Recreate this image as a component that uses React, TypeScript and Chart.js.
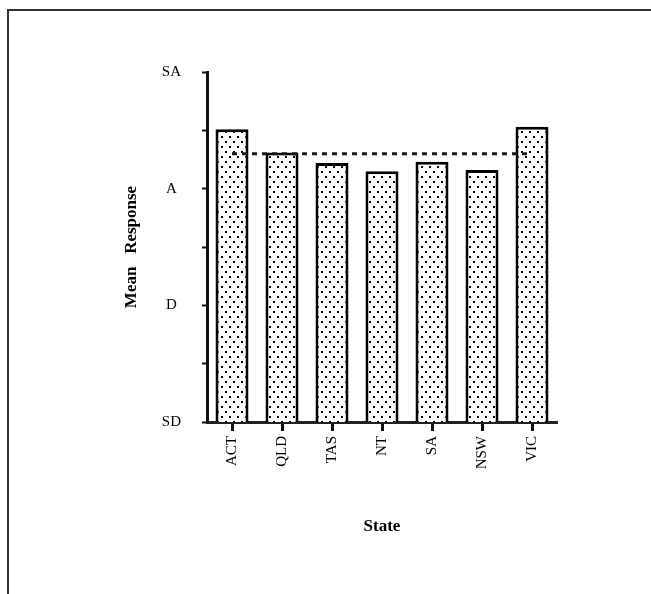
import React, { useEffect, useRef } from "react";
import { Chart, registerables } from "chart.js";

Chart.register(...registerables);

const states = ["ACT", "QLD", "TAS", "NT", "SA", "NSW", "VIC"];
const meanResponse = [3.51, 3.31, 3.22, 3.15, 3.23, 3.16, 3.53];
const overallMean = [3.3, 3.3, 3.3, 3.3, 3.3, 3.3, 3.3];
const yTickValues = [1, 2, 3, 4];
const yTickLabels = ["SD", "D", "A", "SA"];

const SERIF = '"Liberation Serif", "DejaVu Serif", "Times New Roman", serif';

function makeDotPattern(): CanvasPattern | string {
  const c = document.createElement("canvas");
  c.width = 8;
  c.height = 10;
  const g = c.getContext("2d");
  if (!g) return "#fff";
  g.fillStyle = "#ffffff";
  g.fillRect(0, 0, 8, 10);
  g.fillStyle = "#000000";
  g.fillRect(1, 1, 2, 2);
  g.fillRect(5, 6, 2, 2);
  const p = g.createPattern(c, "repeat");
  return p || "#fff";
}

export default function App() {
  const ref = useRef<HTMLCanvasElement | null>(null);

  useEffect(() => {
    if (!ref.current) return;
    const pattern = makeDotPattern();
    const chart = new Chart(ref.current, {
      type: "bar",
      data: {
        labels: states,
        datasets: [
          {
            type: "line",
            label: "Overall mean",
            data: overallMean,
            borderColor: "#1a1a1a",
            borderWidth: 3,
            borderDash: [5, 5],
            pointRadius: 0,
            fill: false,
            order: 0,
          } as any,
          {
            type: "bar",
            label: "Mean Response",
            data: meanResponse,
            backgroundColor: pattern as any,
            borderColor: "#000000",
            borderWidth: 3,
            borderSkipped: false,
            categoryPercentage: 1,
            barPercentage: 0.66,
            order: 1,
          } as any,
        ],
      },
      options: {
        animation: false,
        responsive: true,
        maintainAspectRatio: false,
        layout: { padding: { left: 117, top: 72, right: 94, bottom: 53 } },
        plugins: {
          legend: { display: false },
          tooltip: { enabled: false },
        },
        scales: {
          x: {
            grid: {
              offset: false,
              drawOnChartArea: false,
              drawTicks: true,
              tickLength: 9,
              tickWidth: 3,
              color: "#111",
            },
            border: { display: true, width: 3, color: "#222" },
            ticks: {
              minRotation: 90,
              maxRotation: 90,
              autoSkip: false,
              padding: 5,
              color: "#000",
              font: { family: SERIF, size: 15 },
            },
            title: {
              display: true,
              text: "State",
              color: "#000",
              font: { family: SERIF, size: 17, weight: "bold" },
              padding: { top: 4, bottom: 4 },
            },
            afterFit: (axis: any) => {
              axis.height = 119;
            },
          },
          y: {
            min: 1,
            max: 4,
            grid: {
              drawOnChartArea: false,
              drawTicks: true,
              tickLength: 5,
              tickWidth: 2,
              color: "#111",
            },
            border: { display: true, width: 3, color: "#111" },
            ticks: {
              stepSize: 0.5,
              crossAlign: "center",
              padding: 21,
              color: "#000",
              font: { family: SERIF, size: 15 },
              callback: (v: any) => {
                const i = yTickValues.indexOf(Number(v));
                return i >= 0 ? yTickLabels[i] : "";
              },
            },
            title: {
              display: true,
              text: "Mean   Response",
              color: "#000",
              font: { family: SERIF, size: 17, weight: "bold" },
              padding: { top: 4, bottom: 4 },
            },
            afterFit: (axis: any) => {
              axis.width = 207 - 117;
            },
          },
        },
      },
    });
    return () => chart.destroy();
  }, []);

  return (
    <div
      style={{
        position: "absolute",
        left: 0,
        top: 0,
        width: 651,
        height: 594,
        overflow: "hidden",
        background: "#fff",
      }}
    >
      <div
        style={{
          position: "absolute",
          left: 7,
          top: 9,
          right: -10,
          bottom: -10,
          borderLeft: "2px solid #333",
          borderTop: "2px solid #333",
        }}
      />
      <div style={{ position: "absolute", left: 0, top: 0, width: 651, height: 594 }}>
        <canvas ref={ref} />
      </div>
    </div>
  );
}
